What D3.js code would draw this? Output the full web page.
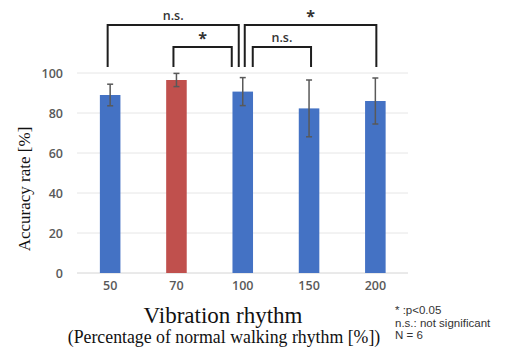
<!DOCTYPE html>
<html>
<head>
<meta charset="utf-8">
<script src="https://cdn.jsdelivr.net/npm/d3@7"></script>
<style>
  body { margin: 0; background: #fff; }
</style>
</head>
<body>
<div id="chart"></div>
<script>
const categories = ['50', '70', '100', '150', '200'];
const values = [89, 96.5, 90.7, 82.3, 86];
const errors = [5.4, 3.3, 7, 14.2, 11.5];
const highlighted = ['70'];
const yTicks = [0, 20, 40, 60, 80, 100];
const comparisons = [
  { from: '50', to: '100', label: 'n.s.', level: 0 },
  { from: '100', to: '200', label: '*', level: 0 },
  { from: '70', to: '100', label: '*', level: 1 },
  { from: '100', to: '150', label: 'n.s.', level: 1 }
];
const notes = ['* :p<0.05', 'n.s.: not significant', 'N = 6'];

const width = 509;
const height = 349;
const blue = '#4472C4';
const red = '#C0504D';
const sans = '"Open Sans", Roboto, sans-serif';
const serif = '"Liberation Serif", "DejaVu Serif", serif';

const svg = d3.select('#chart').append('svg')
  .attr('width', width).attr('height', height);

const x = d3.scaleBand().domain(categories).range([77, 408.5]).paddingInner(0.69).paddingOuter(0.345);
const y = d3.scaleLinear().domain([0, 100]).range([273, 73]);
const cx = c => x(c) + x.bandwidth() / 2;

// gridlines
svg.append('g').selectAll('line').data(yTicks).join('line')
  .attr('x1', 77).attr('x2', 408)
  .attr('y1', d => y(d)).attr('y2', d => y(d))
  .attr('stroke', d => d === 0 ? '#d4d4d4' : '#e6e6e6')
  .attr('stroke-width', 1);

// y axis labels
const yAxis = svg.append('g').attr('transform', 'translate(63,0)')
  .call(d3.axisLeft(y).tickValues(yTicks).tickSize(0).tickPadding(0));
yAxis.select('.domain').remove();
yAxis.selectAll('text')
  .attr('font-family', sans).attr('font-size', 12.5).attr('font-weight', 600)
  .attr('fill', '#595959');

// x axis labels
const xAxis = svg.append('g').attr('transform', 'translate(0,281)')
  .call(d3.axisBottom(x).tickSize(0).tickPadding(0));
xAxis.select('.domain').remove();
xAxis.selectAll('text')
  .attr('font-family', sans).attr('font-size', 12.5).attr('font-weight', 600)
  .attr('fill', '#595959');

// bars
svg.append('g').selectAll('rect').data(categories).join('rect')
  .attr('x', d => x(d))
  .attr('width', x.bandwidth())
  .attr('y', (d, i) => y(values[i]))
  .attr('height', (d, i) => y(0) - y(values[i]))
  .attr('fill', d => highlighted.includes(d) ? red : blue);

// error bars
const eb = svg.append('g').attr('stroke', '#595959').attr('stroke-width', 1.5);
categories.forEach((c, i) => {
  const top = y(values[i] + errors[i]);
  const bot = y(values[i] - errors[i]);
  eb.append('line').attr('x1', cx(c)).attr('x2', cx(c)).attr('y1', top).attr('y2', bot);
  eb.append('line').attr('x1', cx(c) - 3).attr('x2', cx(c) + 3).attr('y1', top).attr('y2', top);
  eb.append('line').attr('x1', cx(c) - 3).attr('x2', cx(c) + 3).attr('y1', bot).attr('y2', bot);
});

// significance brackets
const bracketTop = [25, 47];
const bracketBottom = 67;
const endShift = { '50-100': [-2.5, -4], '100-200': [2, 1], '70-100': [-3, -11], '100-150': [10, 2] };
const br = svg.append('g');
comparisons.forEach(c => {
  const s = endShift[c.from + '-' + c.to] || [0, 0];
  const x1 = cx(c.from) + s[0];
  const x2 = cx(c.to) + s[1];
  const t = bracketTop[c.level];
  br.append('path')
    .attr('d', `M${x1},${bracketBottom}V${t}H${x2}V${bracketBottom}`)
    .attr('fill', 'none').attr('stroke', '#1e1e1e').attr('stroke-width', 2);
  br.append('text')
    .attr('x', (x1 + x2) / 2)
    .attr('y', c.label === '*' ? t - 3 : t - 5)
    .attr('text-anchor', 'middle')
    .attr('font-family', sans)
    .attr('font-size', c.label === '*' ? 16 : 12.5)
    .attr('font-weight', c.label === '*' ? 700 : 600)
    .attr('fill', '#333')
    .text(c.label);
});

// axis titles
svg.append('text')
  .attr('transform', 'translate(30,189) rotate(-90)')
  .attr('text-anchor', 'middle')
  .attr('font-family', serif).attr('font-size', 17).attr('fill', '#111')
  .text('Accuracy rate [%]');

svg.append('text')
  .attr('x', 223).attr('y', 323)
  .attr('text-anchor', 'middle')
  .attr('font-family', serif).attr('font-size', 23).attr('fill', '#111')
  .text('Vibration rhythm');

svg.append('text')
  .attr('x', 224).attr('y', 343)
  .attr('text-anchor', 'middle')
  .attr('font-family', serif).attr('font-size', 17.8).attr('fill', '#111')
  .text('(Percentage of normal walking rhythm [%])');

// notes
svg.append('g').selectAll('text').data(notes).join('text')
  .attr('x', 395)
  .attr('y', (d, i) => 314 + i * 12.5)
  .attr('font-family', '"Liberation Sans", Arial, sans-serif')
  .attr('font-size', 11.5)
  .attr('fill', '#333')
  .text(d => d);
</script>
</body>
</html>
